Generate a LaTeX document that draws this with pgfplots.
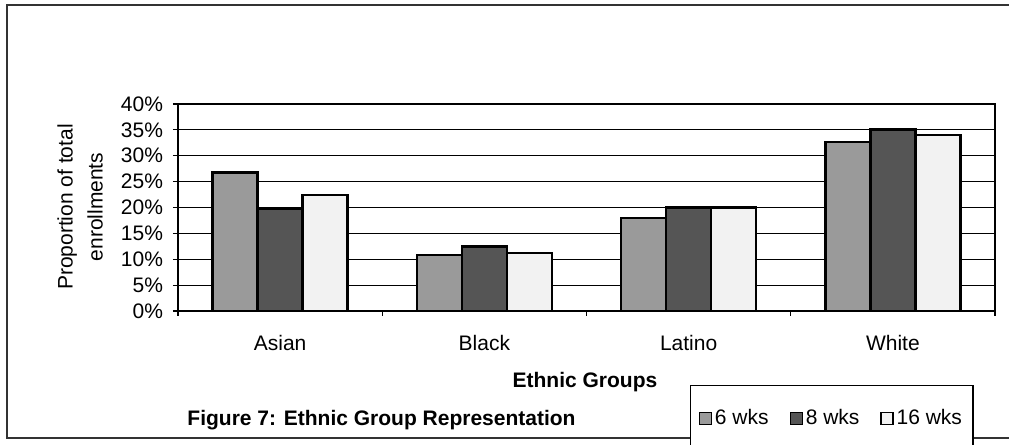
\documentclass[border=0pt]{standalone}
\usepackage{pgfplots}
\pgfplotsset{compat=1.18}
\usepackage{fontspec}
\setmainfont{Liberation Sans}
\definecolor{sixw}{HTML}{9A9A9A}
\definecolor{eightw}{HTML}{555555}
\definecolor{sixteenw}{HTML}{F2F2F2}
\newcommand{\fs}{\fontsize{10.5}{12.5}\selectfont}
\begin{document}
\begin{tikzpicture}[x=1pt,y=1pt]
\useasboundingbox (0,0) rectangle (504.5,222.5);
\draw[line width=0.8pt, black!80] (3.5,3.5) rectangle (530,220);
\begin{axis}[
  at={(89pt,67pt)}, anchor=south west,
  scale only axis, width=408.5pt, height=103.5pt,
  ymin=0, ymax=40, ytick={0,5,...,40},
  yticklabel={\pgfmathprintnumber[assume math mode=true]{\tick}\%},
  xmin=-0.5, xmax=3.5, xtick={-0.5,0.5,1.5,2.5,3.5},
  x tick label as interval,
  xticklabels={Asian,Black,Latino,White},
  xtick pos=bottom, ytick pos=left,
  ybar=0pt, bar width=22.5pt,
  ymajorgrids, grid style={black, line width=0.6pt},
  axis line style={black, line width=0.8pt},
  tick style={black, line width=0.6pt},
  tick align=outside, major tick length=2.5pt,
  tick label style={font=\fs},
  y tick label style={xshift=-1.5pt},
  x tick label style={yshift=-6pt},
  legend style={at={(0.6267,-0.3575)}, anchor=north west, legend columns=3,
    draw=black, line width=0.7pt, font=\fs, inner ysep=10pt, inner xsep=4pt,
    nodes={inner xsep=1.5pt},
    /tikz/every even column/.append style={column sep=9pt}},
  legend image code/.code={\draw[#1, line width=0.6pt] (0pt,-3pt) rectangle (6pt,3pt);},
]
\addplot[fill=sixw, draw=black, line width=1.2pt] coordinates {(0,26.8) (1,10.8) (2,18.0) (3,32.7)};
\addplot[fill=eightw, draw=black, line width=1.2pt] coordinates {(0,19.7) (1,12.5) (2,20.0) (3,35.1)};
\addplot[fill=sixteenw, draw=black, line width=1.2pt] coordinates {(0,22.4) (1,11.2) (2,20.0) (3,34.0)};
\legend{6 wks, 8 wks, 16 wks}
\end{axis}
\node[font=\bfseries\fs] at (292.5,31.5) {Ethnic Groups};
\node[font=\bfseries\fs] at (190.75,12.5) {Figure 7: Ethnic Group Representation};
\node[rotate=90, align=center, font=\fontsize{10.5}{15}\selectfont] at (40,119) {Proportion of total\\enrollments};
\end{tikzpicture}
\end{document}
